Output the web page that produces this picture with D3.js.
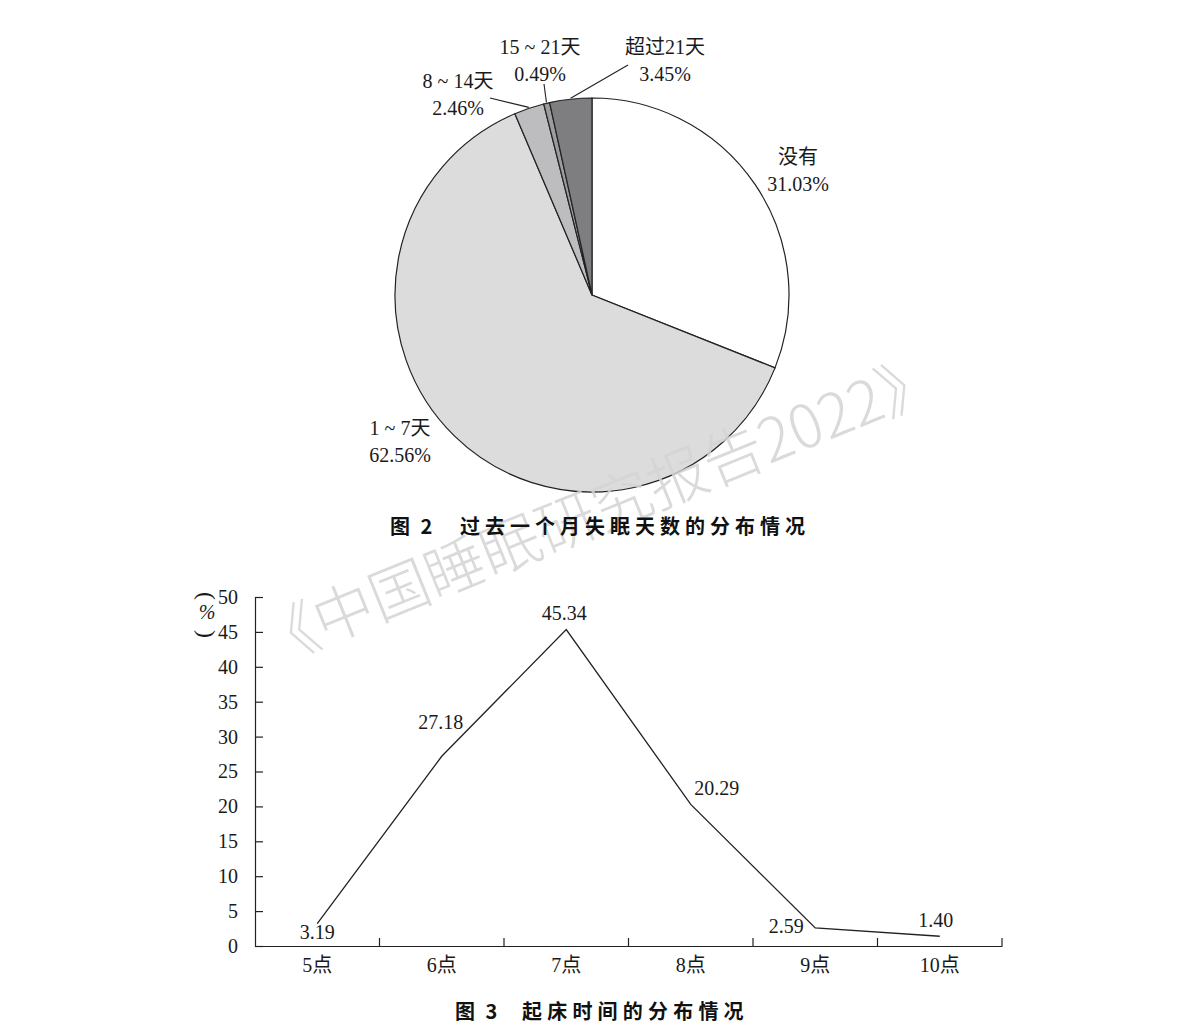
<!DOCTYPE html>
<html>
<head>
<meta charset="utf-8">
<script src="https://cdn.jsdelivr.net/npm/d3@7.9.0/dist/d3.min.js"></script>
<style>
  body { margin: 0; background: #fff; }
  svg { display: block; }
  text.serif { font-family: "Liberation Serif", "Times New Roman", "DejaVu Serif", "Noto Sans CJK SC", serif; font-size: 20px; fill: #1a1a1a; }
  text.caption { font-family: "Noto Sans CJK SC", sans-serif; font-weight: bold; font-size: 20px; fill: #111; }
</style>
</head>
<body>
<svg id="chart" width="1200" height="1034"></svg>
<script>
// pie: insomnia days in the past month
const pieLabels = ['没有', '1 ~ 7天', '8 ~ 14天', '15 ~ 21天', '超过21天'];
const pieValues = [31.03, 62.56, 2.46, 0.49, 3.45];
const pieColors = ['#ffffff', '#dcdcdd', '#bdbdbf', '#9c9c9e', '#7e7e80'];

// line: wake-up time
const wakeHours = ['5点', '6点', '7点', '8点', '9点', '10点'];
const wakeValues = [3.19, 27.18, 45.34, 20.29, 2.59, 1.40];
const yTicks = [0, 5, 10, 15, 20, 25, 30, 35, 40, 45, 50];

// label placement for the pie (layout only)
const pieLabelPos = [
  { x: 798, y: 164, leader: false },
  { x: 400, y: 435, leader: false },
  { x: 458, y: 88, leader: true, lx: 490, ly: 98 },
  { x: 540, y: 54, leader: true, lx: 544, ly: 84 },
  { x: 665, y: 54, leader: true, lx: 628, ly: 65 }
];
// point label offsets for the line (layout only)
const pointLabelOffset = [[0, 15], [-1, -27], [-2, -10], [26, -9], [-29, 5], [-4, -9]];

const svg = d3.select('#chart');
const serifFont = '"Liberation Serif", "Times New Roman", "DejaVu Serif", "Noto Sans CJK SC", serif';

// ---- pie ----
const cx = 592, cy = 295, r = 197;
const pieG = svg.append('g').attr('transform', `translate(${cx},${cy})`);
const arcs = d3.pie().sort(null).value((d) => d)(pieValues);
const arcGen = d3.arc().innerRadius(0).outerRadius(r);

pieG.selectAll('path')
  .data(arcs)
  .join('path')
  .attr('d', arcGen)
  .attr('fill', (d, i) => pieColors[i])
  .attr('stroke', '#222')
  .attr('stroke-width', 1.2);

arcs.forEach((a, i) => {
  const p = pieLabelPos[i];
  if (p.leader) {
    const mid = (a.startAngle + a.endAngle) / 2;
    const ex = cx + Math.sin(mid) * (r + 1);
    const ey = cy - Math.cos(mid) * (r + 1);
    svg.append('line')
      .attr('x1', p.lx).attr('y1', p.ly)
      .attr('x2', ex).attr('y2', ey)
      .attr('stroke', '#222').attr('stroke-width', 1.1);
  }
  const t = svg.append('text').attr('class', 'serif').attr('text-anchor', 'middle')
    .style('font-family', serifFont);
  t.append('tspan').attr('x', p.x).attr('y', p.y).text(pieLabels[i]);
  t.append('tspan').attr('x', p.x).attr('y', p.y + 27).text(pieValues[i].toFixed(2) + '%');
});

// watermark
svg.append('text')
  .attr('transform', 'translate(600,515) rotate(-22)')
  .attr('text-anchor', 'middle')
  .attr('dominant-baseline', 'middle')
  .style('font-family', '"Noto Sans CJK SC", sans-serif')
  .style('font-weight', 300)
  .style('font-size', '60px')
  .style('fill', '#d4d4d4')
  .style('fill-opacity', 0.85)
  .text('《中国睡眠研究报告2022》');

svg.append('text').attr('class', 'caption').attr('x', 390).attr('y', 534)
  .style('word-spacing', '6px').text('图 2');
svg.append('text').attr('class', 'caption').attr('x', 460).attr('y', 534)
  .style('letter-spacing', '5px').text('过去一个月失眠天数的分布情况');

// ---- line ----
const x = d3.scaleBand().domain(wakeHours).range([255, 1002]);
const y = d3.scaleLinear().domain([0, 50]).range([946, 597]);

const xAxis = svg.append('g')
  .attr('transform', `translate(0,${y(0)})`)
  .call(d3.axisBottom(x).tickSize(0).tickPadding(12));
xAxis.select('.domain').attr('stroke', '#222').attr('stroke-width', 1.2);
xAxis.selectAll('text').attr('class', 'serif').style('font-family', serifFont).style('font-size', '20px');

// upward tick marks at category boundaries
svg.append('g').selectAll('line')
  .data(wakeHours)
  .join('line')
  .attr('x1', (d) => x(d) + x.bandwidth()).attr('x2', (d) => x(d) + x.bandwidth())
  .attr('y1', y(0)).attr('y2', y(0) - 8)
  .attr('stroke', '#222').attr('stroke-width', 1.2);

const yAxis = svg.append('g')
  .attr('transform', `translate(${x.range()[0]},0)`)
  .call(d3.axisLeft(y).tickValues(yTicks).tickSize(-8).tickPadding(17));
yAxis.select('.domain').attr('stroke', '#222').attr('stroke-width', 1.2);
yAxis.selectAll('.tick line').attr('stroke', '#222').attr('stroke-width', 1.2);
yAxis.selectAll('text').attr('class', 'serif').style('font-family', serifFont).style('font-size', '20px');

// unit label (%) written vertically
const ux = 207;
svg.append('text').attr('class', 'serif').style('font-family', serifFont).attr('text-anchor', 'middle')
  .style('font-size', '24px')
  .attr('transform', `translate(${ux},596) rotate(90)`).attr('dy', '0.32em').text('(');
svg.append('text').attr('class', 'serif').style('font-family', serifFont).attr('text-anchor', 'middle')
  .attr('x', ux).attr('y', 619).style('font-style', 'italic').text('%');
svg.append('text').attr('class', 'serif').style('font-family', serifFont).attr('text-anchor', 'middle')
  .style('font-size', '24px')
  .attr('transform', `translate(${ux},634) rotate(90)`).attr('dy', '0.32em').text(')');

const pts = wakeHours.map((h, i) => [x(h) + x.bandwidth() / 2, y(wakeValues[i])]);
svg.append('path')
  .attr('d', d3.line()(pts))
  .attr('fill', 'none')
  .attr('stroke', '#222')
  .attr('stroke-width', 1.3);

svg.append('g').selectAll('text')
  .data(wakeValues)
  .join('text')
  .attr('class', 'serif')
  .style('font-family', serifFont)
  .attr('text-anchor', 'middle')
  .attr('x', (d, i) => pts[i][0] + pointLabelOffset[i][0])
  .attr('y', (d, i) => pts[i][1] + pointLabelOffset[i][1])
  .text((d) => d.toFixed(2));

svg.append('text').attr('class', 'caption').attr('x', 455).attr('y', 1019)
  .style('word-spacing', '6px').text('图 3');
svg.append('text').attr('class', 'caption').attr('x', 522).attr('y', 1019)
  .style('letter-spacing', '5.2px').text('起床时间的分布情况');
</script>
</body>
</html>
